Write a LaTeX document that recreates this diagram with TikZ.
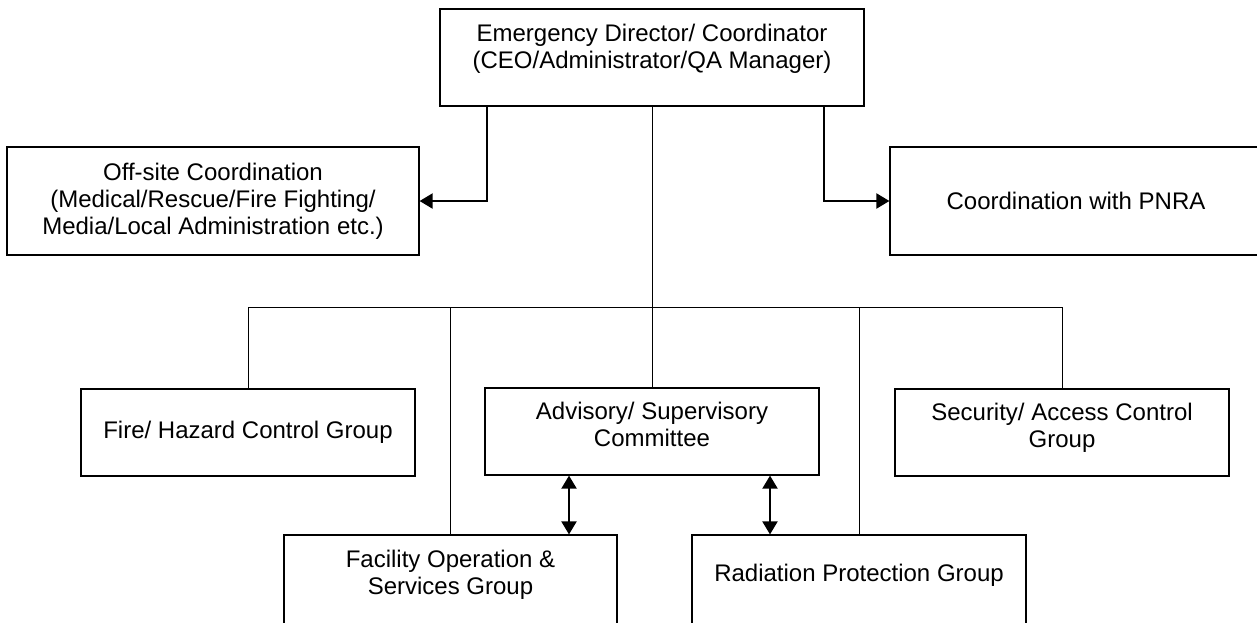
\documentclass[tikz,border=0pt]{standalone}
\usepackage{fontspec}
\setmainfont{Liberation Sans}
\usetikzlibrary{arrows.meta}

\begin{document}
\begin{tikzpicture}[x=0.5pt, y=-0.5pt,
    grp/.style={draw, line width=0.6pt, align=center, inner sep=0pt,
                font=\fontsize{12}{13.5}\selectfont},
    lnk/.style={line width=0.5pt},
    arr/.style={line width=1pt, -{Triangle[width=7.5pt,length=6.5pt]}},
    dbl/.style={line width=1pt, {Triangle[width=7.5pt,length=6.5pt]}-{Triangle[width=7.5pt,length=6.5pt]}}]

    \useasboundingbox (0,0) rectangle (1257,622);

    \node[grp, minimum width=212pt, minimum height=48.5pt, text depth=11pt] (dir) at (652,57.5)
      {Emergency Director/ Coordinator\\(CEO/Administrator/QA Manager)};

    \node[grp, minimum width=206pt, minimum height=54pt] (off) at (213,201)
      {Off-site Coordination\\(Medical/Rescue/Fire Fighting/\\Media/Local Administration etc.)};
    \node[grp, minimum width=186pt, minimum height=54pt] (pnra) at (1076,201)
      {Coordination with PNRA};

    \node[grp, minimum width=167pt, minimum height=43.5pt] (fire) at (248,432.5)
      {Fire/ Hazard Control Group};
    \node[grp, minimum width=167pt, minimum height=43.5pt, text depth=7pt] (adv) at (652,431.5)
      {Advisory/ Supervisory\\Committee};
    \node[grp, minimum width=167pt, minimum height=43.5pt, text depth=7pt] (sec) at (1062,432.5)
      {Security/ Access Control\\Group};

    \node[grp, minimum width=166.5pt, minimum height=45pt, text depth=7.5pt] (fac) at (450.5,580)
      {Facility Operation \&\\Services Group};
    \node[grp, minimum width=167pt, minimum height=45pt, text depth=7.5pt] (rad) at (859,580)
      {Radiation Protection Group};

    \coordinate (bus) at (652,307);

    \draw[arr] ([xshift=24pt]dir.south west) |- (off.east);
    \draw[arr] ([xshift=-20.5pt]dir.south east) |- (pnra.west);

    \draw[lnk] (dir) -- (adv);
    \draw[lnk] (fire.north) -- (fire.north |- bus) -- (sec.north |- bus) -- (sec.north);
    \draw[lnk] (fac.north) -- (fac.north |- bus);
    \draw[lnk] (rad.north) -- (rad.north |- bus);

    \draw[dbl] ([xshift=-41.5pt]adv.south) -- ([xshift=-41.5pt]adv.south |- fac.north);
    \draw[dbl] ([xshift=59pt]adv.south) -- ([xshift=59pt]adv.south |- rad.north);

\end{tikzpicture}
\end{document}
